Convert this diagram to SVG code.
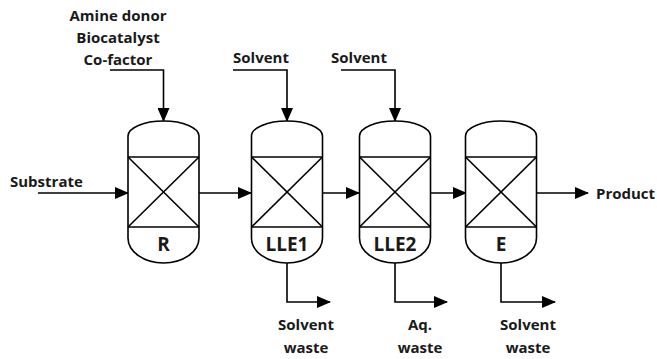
<svg xmlns="http://www.w3.org/2000/svg" width="657" height="359" viewBox="0 0 657 359">
  <defs>
    <marker id="arrow" markerWidth="14" markerHeight="12" refX="13" refY="6" orient="auto" markerUnits="userSpaceOnUse">
      <path d="M0,0 L14,6 L0,12 Z" fill="#000"/>
    </marker>
    <!-- vessel shape, drawn around origin at its left side / top-straight -->
    <g id="vessel">
      <path d="M0,15 A35.5,15 0 0 1 71,15 L71,117 A35.5,25 0 0 1 0,117 Z" fill="#fff" stroke="#000" stroke-width="1.6"/>
      <line x1="0" y1="36" x2="71" y2="36"/>
      <line x1="0" y1="106" x2="71" y2="106"/>
      <line x1="0" y1="36" x2="71" y2="106"/>
      <line x1="71" y1="36" x2="0" y2="106"/>
    </g>
  </defs>
  <style>
    line, polyline { stroke: #000; stroke-width: 1.6; fill: none; }
    text { font-family: "Open Sans", "Liberation Sans", sans-serif; font-weight: 700; font-size: 15px; fill: #1a1a1a; }
    .lbl { font-size: 19px; text-anchor: middle; }
    .mid { text-anchor: middle; }
  </style>
  <rect width="657" height="359" fill="#fff"/>

  <g id="connectors">
    <line x1="38" y1="193" x2="128" y2="193" marker-end="url(#arrow)"/>
    <line x1="199" y1="193" x2="251" y2="193" marker-end="url(#arrow)"/>
    <line x1="323" y1="193" x2="359" y2="193" marker-end="url(#arrow)"/>
    <line x1="431" y1="193" x2="466" y2="193" marker-end="url(#arrow)"/>
    <line x1="537" y1="193" x2="588" y2="193" marker-end="url(#arrow)"/>
    <polyline points="110,70 163.5,70 163.5,121" marker-end="url(#arrow)"/>
    <polyline points="233,70 287,70 287,121" marker-end="url(#arrow)"/>
    <polyline points="341,70 395,70 395,121" marker-end="url(#arrow)"/>
    <polyline points="287,263 287,302 330,302" marker-end="url(#arrow)"/>
    <polyline points="395,263 395,302 447,302" marker-end="url(#arrow)"/>
    <polyline points="501,263 501,302 555,302" marker-end="url(#arrow)"/>
  </g>

  <g id="R">
    <use href="#vessel" x="128" y="121" stroke="#000" stroke-width="1.6"/>
    <text class="lbl" x="163.5" y="251">R</text>
  </g>
  <g id="LLE1">
    <use href="#vessel" x="251.5" y="121" stroke="#000" stroke-width="1.6"/>
    <text class="lbl" x="287" y="251">LLE1</text>
  </g>
  <g id="LLE2">
    <use href="#vessel" x="359.5" y="121" stroke="#000" stroke-width="1.6"/>
    <text class="lbl" x="395" y="251">LLE2</text>
  </g>
  <g id="E">
    <use href="#vessel" x="465.5" y="121" stroke="#000" stroke-width="1.6"/>
    <text class="lbl" x="501" y="251">E</text>
  </g>

  <g id="feeds">
    <text class="mid" x="118" y="21">Amine donor</text>
    <text class="mid" x="118" y="43">Biocatalyst</text>
    <text class="mid" x="118" y="65">Co-factor</text>
    <text class="mid" x="261" y="63">Solvent</text>
    <text class="mid" x="359" y="63">Solvent</text>
    <text x="10" y="187">Substrate</text>
    <text x="596" y="199">Product</text>
  </g>
  <g id="outlets">
    <text class="mid" x="306" y="330">Solvent</text>
    <text class="mid" x="306" y="353">waste</text>
    <text class="mid" x="420" y="330">Aq.</text>
    <text class="mid" x="420" y="353">waste</text>
    <text class="mid" x="528" y="330">Solvent</text>
    <text class="mid" x="528" y="353">waste</text>
  </g>
</svg>
